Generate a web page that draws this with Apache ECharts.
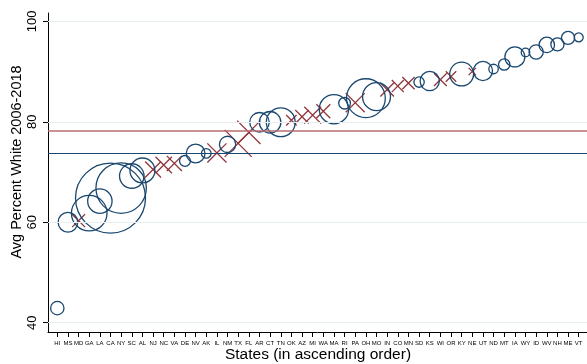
<!DOCTYPE html>
<html><head><meta charset="utf-8">
<script src="https://cdn.jsdelivr.net/npm/echarts@6/dist/echarts.min.js"></script>
<style>html,body{margin:0;padding:0;background:#fff}#c{width:587px;height:364px}</style>
</head><body><div id="c"></div>
<script>
// ---- data ----
const states = ['HI','MS','MD','GA','LA','CA','NY','SC','AL','NJ','NC','VA','DE','NV','AK','IL','NM','TX','FL','AR','CT','TN','OK','AZ','MI','WA','MA','RI','PA','OH','MO','IN','CO','MN','SD','KS','WI','OR','KY','NE','UT','ND','MT','IA','WY','ID','WV','NH','ME','VT'];
const avgPctWhite = [42.9,60.0,60.3,61.8,64.2,64.8,66.8,69.2,70.3,70.5,71.4,71.7,72.2,73.7,73.7,73.8,75.5,75.7,77.9,79.9,79.9,79.9,80.3,81.0,81.3,82.1,82.5,83.7,83.8,84.7,85.0,86.4,87.1,87.7,87.9,88.1,88.4,89.0,89.5,90.0,90.1,90.5,91.4,92.9,93.8,93.9,95.3,95.4,96.7,96.8];
// marker group: 'O' = hollow circle, 'X' = cross
const markerGroup = ['O','O','X','O','O','O','O','O','O','X','X','X','O','O','O','X','O','X','X','O','O','O','X','X','X','X','O','O','X','O','O','X','X','X','O','O','X','X','O','X','O','O','O','O','O','O','O','O','O','O'];
// population weights (millions)
const population = [1.37,2.96,5.8,9.7,4.55,37.6,19.5,4.6,4.77,8.8,9.5,8.0,0.91,2.7,0.71,12.8,2.03,25.5,19.0,2.92,3.56,6.4,3.75,6.4,9.9,6.8,6.6,1.05,12.7,11.55,5.98,6.5,5.1,5.3,0.82,2.85,5.7,3.85,4.35,1.83,2.8,0.69,0.99,3.06,0.56,1.55,1.84,1.32,1.33,0.625];
const meanLineRed = 78.2;
const meanLineNavy = 73.7;
const yTickValues = [40,60,80,100];

// ---- build ----
const idx = states.map((_, i) => i);
const circleData = idx.filter(i => markerGroup[i] === 'O').map(i => [i, avgPctWhite[i], population[i]]);
const crossData = idx.filter(i => markerGroup[i] === 'X').map(i => [i, avgPctWhite[i], population[i]]);
const maxO = Math.max(...circleData.map(d => d[2]));
const maxX = Math.max(...crossData.map(d => d[2]));

const chart = echarts.init(document.getElementById('c'), null, {renderer: 'canvas'});
chart.setOption({
  animation: false,
  backgroundColor: '#fff',
  grid: {left: 48, right: 0, top: 13, bottom: 32, containLabel: false},
  xAxis: {
    type: 'value', min: -0.874, max: 49.78,
    splitLine: {show: false},
    axisLine: {show: true, onZero: false, lineStyle: {color: '#000', width: 1}},
    axisTick: {show: true, length: 5, lineStyle: {color: '#000'}, customValues: idx},
    axisLabel: {customValues: idx, formatter: v => states[Math.round(v)] || '', fontSize: 6,
      fontFamily: 'Liberation Sans, Arial, sans-serif', color: '#000', margin: 8, hideOverlap: false}
  },
  yAxis: {
    type: 'value', min: 38.15, max: 101.65,
    splitLine: {show: false},
    axisLine: {show: true, onZero: false, lineStyle: {color: '#000', width: 1}},
    axisTick: {show: true, length: 5, lineStyle: {color: '#000'}, customValues: yTickValues},
    axisLabel: {customValues: yTickValues, rotate: 90, fontSize: 13,
      fontFamily: 'Liberation Sans, Arial, sans-serif', color: '#000', margin: 9}
  },
  graphic: [
    {type: 'text', x: 17, y: 162, rotation: Math.PI / 2,
      style: {text: 'Avg Percent White 2006-2018', font: '14.5px "Liberation Sans", Arial, sans-serif',
        fill: '#000', align: 'center', verticalAlign: 'middle'}},
    {type: 'text', x: 318, y: 355,
      style: {text: 'States (in ascending order)', font: '15.5px "Liberation Sans", Arial, sans-serif',
        fill: '#000', align: 'center', verticalAlign: 'middle'}}
  ],
  series: [
    {
      type: 'scatter', data: [], silent: true, z: 1,
      markLine: {
        silent: true, symbol: 'none', label: {show: false}, animation: false,
        data: yTickValues.map(v => ({yAxis: v, lineStyle: {color: '#e6eef0', width: 1, type: 'solid'}}))
          .concat([
            {yAxis: meanLineRed, lineStyle: {color: '#b86b70', width: 1.6, type: 'solid'}},
            {yAxis: meanLineNavy, lineStyle: {color: '#1a476f', width: 1.1, type: 'solid'}}
          ])
      }
    },
    {
      type: 'scatter', data: crossData, z: 3, silent: true,
      symbol: 'path://M0,0L10,10M10,0L0,10',
      symbolSize: d => 27 * Math.sqrt(d[2] / maxX),
      itemStyle: {color: 'none', borderColor: '#90353b', borderWidth: 1.3, opacity: 1}
    },
    {
      type: 'scatter', data: circleData, z: 4, silent: true,
      symbol: 'circle',
      symbolSize: d => 70 * Math.sqrt(d[2] / maxO),
      itemStyle: {color: 'rgba(0,0,0,0)', borderColor: '#1a476f', borderWidth: 1.3, opacity: 1}
    }
  ]
});
</script></body></html>
